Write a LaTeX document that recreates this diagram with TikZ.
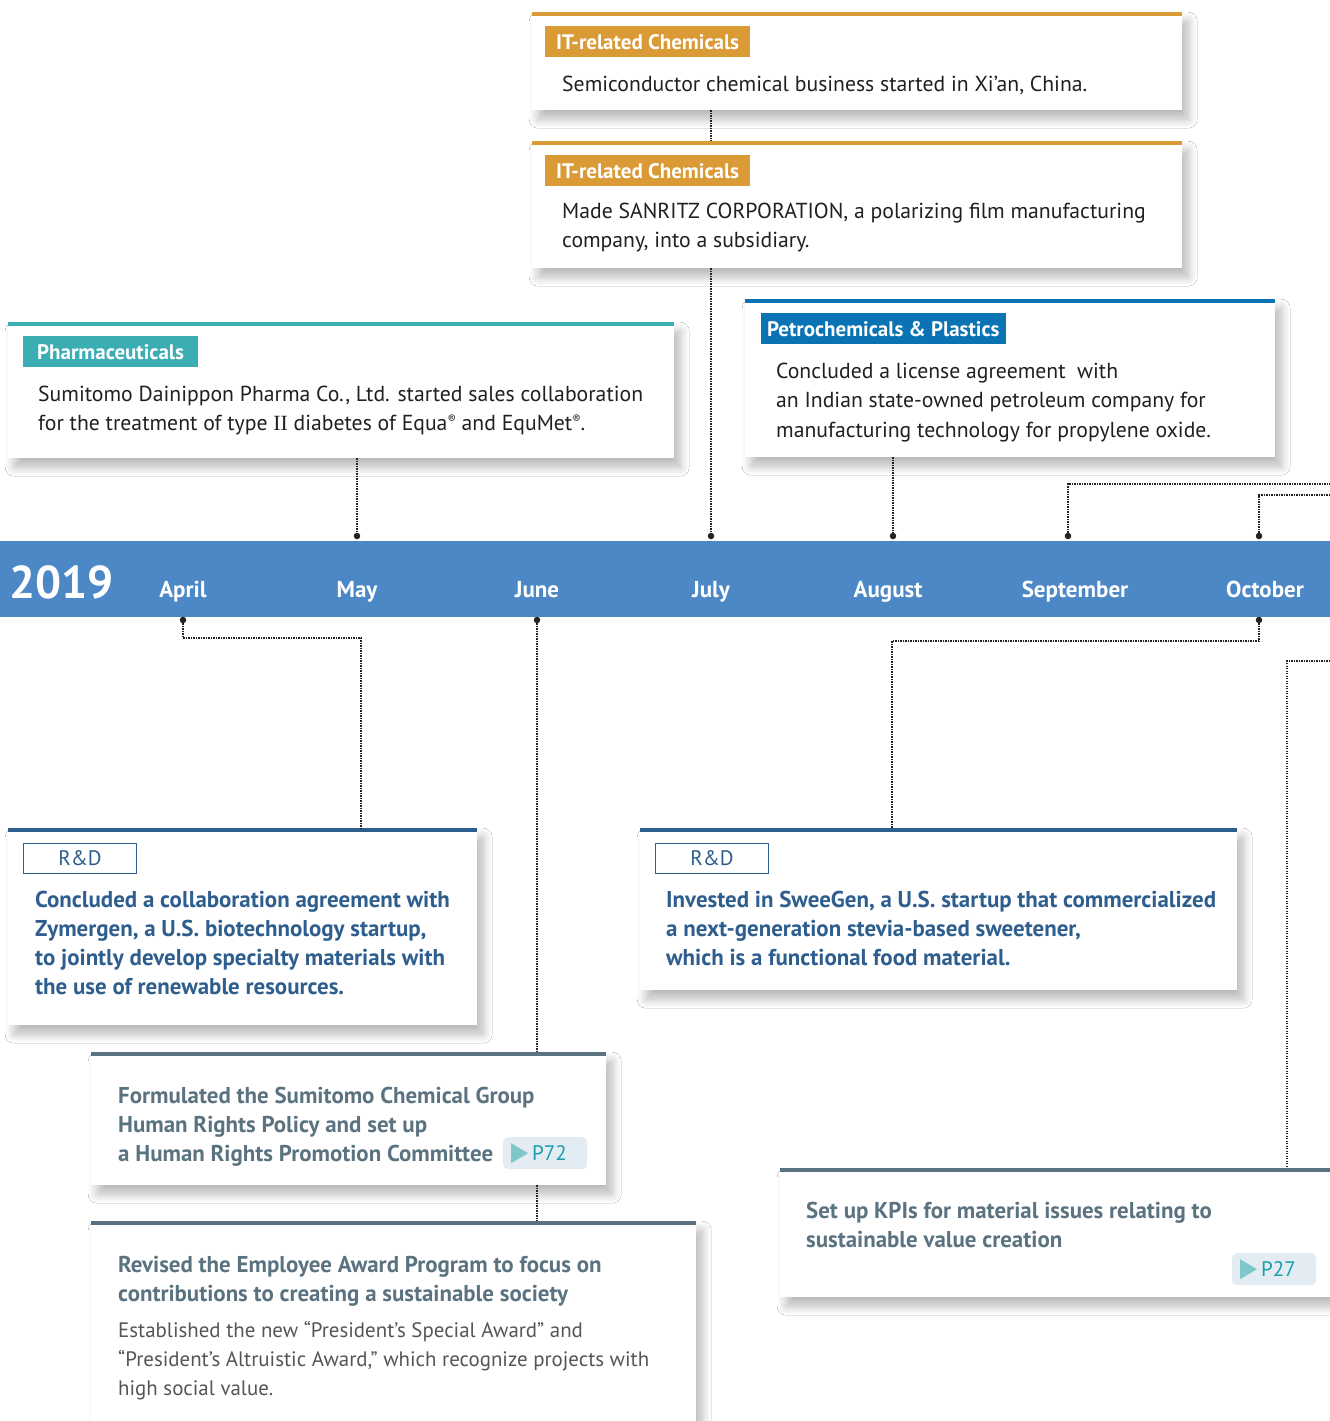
\documentclass[tikz,border=0pt]{standalone}
\usepackage{fontspec}
\setmainfont{PT Sans}
\newfontfamily\romanII{Liberation Serif}
\usetikzlibrary{shadows.blur}
\definecolor{orangeC}{HTML}{DA9B37}
\definecolor{tealC}{HTML}{3BAEB4}
\definecolor{petroC}{HTML}{0A73B4}
\definecolor{bandC}{HTML}{4D88C6}
\definecolor{rdC}{HTML}{2E5E8E}
\definecolor{slateC}{HTML}{5B7381}
\definecolor{tagbgC}{HTML}{E2ECF2}
\definecolor{triC}{HTML}{7FC7CB}
\definecolor{tagtC}{HTML}{1A9DAE}
\definecolor{textC}{HTML}{231F20}
\definecolor{lightC}{HTML}{555555}
\definecolor{dotC}{HTML}{222222}
\newcommand{\regmark}{\raisebox{7pt}{\fontsize{12}{12}\selectfont ®}}
\begin{document}
\begin{tikzpicture}[x=1pt,y=-1pt,
  card/.style={fill=white, anchor=north west, inner sep=0, draw=none,
    blur shadow={shadow xshift=6pt, shadow yshift=-9pt, shadow blur radius=9pt, shadow blur steps=12, shadow opacity=28}},
  topline/.style={line width=4.5pt},
  cattag/.style={anchor=north west, inner xsep=11pt, inner ysep=0, minimum height=31pt, text=white,
    font=\bfseries\fontsize{21}{24}\selectfont},
  rdtag/.style={anchor=north west, inner sep=0, minimum width=113pt, minimum height=30pt, draw=rdC,
    line width=1pt, text=rdC, font=\fontsize{21}{24}\selectfont},
  body/.style={anchor=base west, inner sep=0, align=left, text=textC, font=\fontsize{21.7}{29.5}\selectfont},
  rdbody/.style={anchor=base west, inner sep=0, align=left, text=rdC, font=\bfseries\fontsize{22.9}{29.3}\selectfont},
  slbody/.style={anchor=base west, inner sep=0, align=left, text=slateC, font=\bfseries\fontsize{22.9}{29.3}\selectfont},
  ltbody/.style={anchor=base west, inner sep=0, align=left, text=lightC, font=\fontsize{20.9}{29.3}\selectfont},
  month/.style={anchor=base, text=white, font=\bfseries\fontsize{23}{26}\selectfont},
  dotnode/.style={circle, fill=dotC, inner sep=0, minimum size=6.5pt},
  conn/.style={line width=1.1pt, dash pattern=on 1.1pt off 1.4pt, color=dotC},
  ptag/.style={anchor=north west, fill=tagbgC, rounded corners=5pt, minimum width=84pt, minimum height=32pt, inner sep=0},
  ptext/.style={anchor=west, inner sep=0, text=tagtC, font=\fontsize{21}{24}\selectfont}
]
\useasboundingbox (0,0) rectangle (1330,1421);
\fill[white] (0,0) rectangle (1330,1421);

% ---------- upper cards ----------
\node[card, minimum width=650pt, minimum height=98pt] (b1) at (532,12) {};
\draw[topline, orangeC] ([yshift=-2pt]b1.north west) -- ([yshift=-2pt]b1.north east);
\node[cattag, fill=orangeC] (t1) at (545,26) {IT-related Chemicals};
\node[body] (x1) at (562,92) {Semiconductor chemical business started in Xi’an, China.};

\node[card, minimum width=650pt, minimum height=127pt] (b2) at (532,141) {};
\draw[topline, orangeC] ([yshift=-2pt]b2.north west) -- ([yshift=-2pt]b2.north east);
\node[cattag, fill=orangeC] (t2) at (545,155) {IT-related Chemicals};
\node[body] (x2) at (562,247.5) {Made SANRITZ CORPORATION, a polarizing film manufacturing\\company, into a subsidiary.};

\node[card, minimum width=666pt, minimum height=136pt] (ph) at (8,322) {};
\draw[topline, tealC] ([yshift=-2pt]ph.north west) -- ([yshift=-2pt]ph.north east);
\node[cattag, fill=tealC, inner xsep=14pt] (tph) at (23,336) {Pharmaceuticals};
\node[body] (xph) at (38,430.5) {Sumitomo Dainippon Pharma Co., Ltd. started sales collaboration\\for the treatment of type {\romanII II} diabetes of Equa\regmark{} and EquMet\regmark.};

\node[card, minimum width=530pt, minimum height=158pt] (pe) at (745,299) {};
\draw[topline, petroC] ([yshift=-2pt]pe.north west) -- ([yshift=-2pt]pe.north east);
\node[cattag, fill=petroC, inner xsep=6pt] (tpe) at (761,313) {Petrochemicals \& Plastics};
\node[body] (xpe) at (776,437) {Concluded a license agreement\ \ with\\an Indian state-owned petroleum company for\\manufacturing technology for propylene oxide.};

% ---------- timeline band ----------
\node[anchor=north west, fill=bandC, minimum width=1330pt, minimum height=76pt, inner sep=0] (band) at (0,541) {};
\node[anchor=west, text=white, inner sep=0, font=\bfseries\fontsize{46}{50}\selectfont] (year) at (9,582) {2019};
\node[month] (mApr) at (183,597) {April};
\node[month] (mMay) at (357,597) {May};
\node[month] (mJun) at (537,597) {June};
\node[month] (mJul) at (711,597) {July};
\node[month] (mAug) at (888,597) {August};
\node[month] (mSep) at (1075,597) {September};
\node[month] (mOct) at (1265,597) {October};

\node[dotnode] (dMay) at (357,536) {};
\node[dotnode] (dJul) at (711,536) {};
\node[dotnode] (dAug) at (893,536) {};
\node[dotnode] (dSep) at (1068,536) {};
\node[dotnode] (dOctA) at (1259,536) {};
\node[dotnode] (dApr) at (183,620) {};
\node[dotnode] (dJun) at (537,620) {};
\node[dotnode] (dOctB) at (1259,620) {};

% ---------- lower cards ----------
\node[card, minimum width=469pt, minimum height=197pt] (rd1) at (8,828) {};
\draw[topline, rdC] ([yshift=-2pt]rd1.north west) -- ([yshift=-2pt]rd1.north east);
\node[rdtag] (trd1) at (23,843) {R\&D};
\node[rdbody] (xrd1) at (35,994.9) {Concluded a collaboration agreement with\\Zymergen, a U.S. biotechnology startup,\\to jointly develop specialty materials with\\the use of renewable resources.};

\node[card, minimum width=597pt, minimum height=162pt] (rd2) at (640,828) {};
\draw[topline, rdC] ([yshift=-2pt]rd2.north west) -- ([yshift=-2pt]rd2.north east);
\node[rdtag] (trd2) at (655,843) {R\&D};
\node[rdbody] (xrd2) at (666,965.6) {Invested in SweeGen, a U.S. startup that commercialized\\a next-generation stevia-based sweetener,\\which is a functional food material.};

\node[card, minimum width=515pt, minimum height=133pt] (hr) at (91,1052) {};
\draw[topline, slateC] ([yshift=-2pt]hr.north west) -- ([yshift=-2pt]hr.north east);
\node[slbody] (xhr) at (118,1161.6) {Formulated the Sumitomo Chemical Group\\Human Rights Policy and set up\\a Human Rights Promotion Committee};
\node[ptag] (p72) at (503,1137) {};
\fill[triC] ([xshift=8pt,yshift=10pt]p72.west) -- ([xshift=8pt,yshift=-10pt]p72.west) -- ([xshift=25pt]p72.west) -- cycle;
\node[ptext] (p72t) at ([xshift=29pt]p72.west) {P72};

\node[card, minimum width=605pt, minimum height=230pt] (rv) at (91,1221) {};
\draw[topline, slateC] ([yshift=-2pt]rv.north west) -- ([yshift=-2pt]rv.north east);
\node[slbody] (xrv) at (118,1301.3) {Revised the Employee Award Program to focus on\\contributions to creating a sustainable society};
\node[ltbody] (xrv2) at (118,1395.6) {Established the new “President’s Special Award” and\\“President’s Altruistic Award,” which recognize projects with\\high social value.};

\node[card, minimum width=570pt, minimum height=129pt] (kpi) at (780,1168) {};
\draw[topline, slateC] ([yshift=-2pt]kpi.north west) -- ([yshift=-2pt]kpi.north east);
\node[slbody] (xkpi) at (806,1247.3) {Set up KPIs for material issues relating to\\sustainable value creation};
\node[ptag] (p27) at (1232,1253) {};
\fill[triC] ([xshift=8pt,yshift=10pt]p27.west) -- ([xshift=8pt,yshift=-10pt]p27.west) -- ([xshift=25pt]p27.west) -- cycle;
\node[ptext] (p27t) at ([xshift=29pt]p27.west) {P27};

% ---------- connectors ----------
\coordinate (eSep) at (1330,484);
\coordinate (eOct) at (1330,495);
\coordinate (kApr) at (361,638);
\coordinate (kOct) at (892,641);
\coordinate (eKpi) at (1330,661);
\coordinate (kKpi) at (1287,661);

\draw[conn] (b1.south -| dJul) -- (b2.north -| dJul);
\draw[conn] (b2.south -| dJul) -- (dJul);
\draw[conn] (ph.south -| dMay) -- (dMay);
\draw[conn] (pe.south -| dAug) -- (dAug);
\draw[conn] (dSep) |- (eSep);
\draw[conn] (dOctA) |- (eOct);
\draw[conn] (dApr) |- (kApr) -- (kApr |- rd1.north);
\draw[conn] (dJun) -- (dJun |- hr.north);
\draw[conn] (hr.south -| dJun) -- (rv.north -| dJun);
\draw[conn] (dOctB) |- (kOct) -- (kOct |- rd2.north);
\draw[conn] (eKpi) -- (kKpi) -- (kKpi |- kpi.north);
\end{tikzpicture}
\end{document}
